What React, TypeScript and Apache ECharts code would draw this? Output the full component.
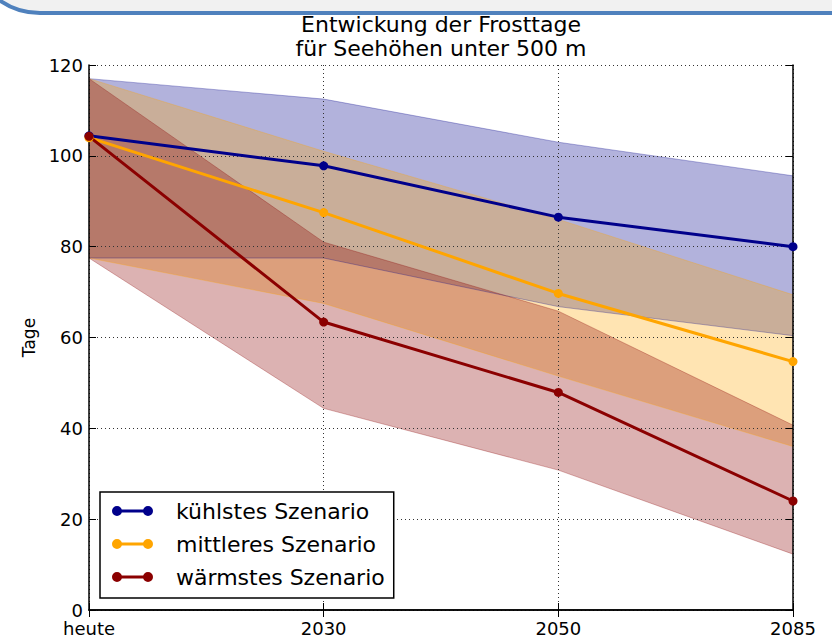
import React, { useEffect, useRef } from "react";
import * as echarts from "echarts";

const categories = ["heute", "2030", "2050", "2085"];
const yTicks = [0, 20, 40, 60, 80, 100, 120];

const seriesNames = ["kühlstes Szenario", "mittleres Szenario", "wärmstes Szenario"];

const coolMean = [104.4, 97.8, 86.5, 80.0];
const midMean = [104.0, 87.5, 69.7, 54.7];
const warmMean = [104.3, 63.4, 47.9, 24.0];

const coolLow = [77.5, 77.5, 66.8, 60.4];
const coolHigh = [117, 112.5, 103, 95.6];
const midLow = [77.5, 67.5, 51.5, 36.0];
const midHigh = [117, 101, 86, 69.4];
const warmLow = [77.5, 44.4, 30.8, 12.3];
const warmHigh = [117, 81, 65.8, 40.7];

const lineColors = ["#00008B", "#FFA500", "#8B0000"];
const bandColors = ["rgba(0,0,139,0.3)", "rgba(255,165,0,0.3)", "rgba(139,0,0,0.3)"];

const FONT = "DejaVu Sans";

const legendIcon =
  "path://M0,5 A5,5 0 1,1 10,5 A5,5 0 1,1 0,5 Z M31,5 A5,5 0 1,1 41,5 A5,5 0 1,1 31,5 Z M5,3.5 L36,3.5 L36,6.5 L5,6.5 Z";

function bandSeries(name: string, low: number[], high: number[], color: string, stack: string) {
  return [
    {
      type: "line",
      name: name + " (unten)",
      stack,
      data: low,
      symbol: "none",
      lineStyle: { color, width: 1 },
      z: 2,
      silent: true,
    },
    {
      type: "line",
      name: name + " (oben)",
      stack,
      data: high.map((h, i) => +(h - low[i]).toFixed(2)),
      symbol: "none",
      lineStyle: { color, width: 1 },
      areaStyle: { color, opacity: 1 },
      z: 2,
      silent: true,
    },
  ];
}

function meanSeries(name: string, data: number[], color: string) {
  return {
    type: "line",
    name,
    data,
    symbol: "circle",
    symbolSize: 9,
    showSymbol: true,
    lineStyle: { color, width: 3 },
    itemStyle: { color, borderWidth: 0 },
    z: 20,
  };
}

export default function App() {
  const ref = useRef<HTMLDivElement>(null);
  useEffect(() => {
    if (!ref.current) return;
    const chart = echarts.init(ref.current, null, { renderer: "svg" });
    const axisCommon = {
      axisLine: { show: true, lineStyle: { color: "#000", width: 1.5 } },
      axisTick: { show: true, inside: true, length: 7, lineStyle: { color: "#000", width: 1 } },
    };
    const gridLine = { show: true, lineStyle: { type: [1, 3], color: "#333", width: 1 } };
    chart.setOption({
      animation: false,
      backgroundColor: "#fff",
      title: {
        text: "Entwickung der Frosttage\nfür Seehöhen unter 500 m",
        left: 441,
        top: 12,
        textAlign: "center",
        padding: 0,
        textStyle: { fontFamily: FONT, fontSize: 22, fontWeight: "normal", color: "#000", lineHeight: 24 },
      },
      graphic: [
        {
          type: "rect",
          shape: { x: -30, y: -147, width: 1000, height: 160, r: 70 },
          style: { fill: "#f1f1f1", stroke: "#4f81bd", lineWidth: 4 },
          z: -10,
          silent: true,
        },
      ],
      grid: { left: 89, right: 39, top: 65, bottom: 27, containLabel: false, outerBoundsMode: "none" },
      legend: {
        data: seriesNames,
        orient: "vertical",
        left: 100,
        top: 492,
        padding: [8, 9, 10, 12],
        itemGap: 11,
        itemWidth: 41,
        itemHeight: 10,
        icon: legendIcon,
        backgroundColor: "#fff",
        borderColor: "#000",
        borderWidth: 1.5,
        borderRadius: 0,
        selectedMode: false,
        itemStyle: { borderWidth: 0 },
        textStyle: { fontFamily: FONT, fontSize: 22, color: "#000", lineHeight: 22, padding: [0, 0, 0, 18] },
        z: 30,
      },
      xAxis: [
        {
          type: "category",
          data: categories,
          boundaryGap: false,
          position: "bottom",
          ...axisCommon,
          axisLabel: { interval: 0, margin: 11, fontSize: 18, lineHeight: 14, color: "#000", fontFamily: FONT },
          splitLine: { ...gridLine, interval: 0 },
          z: 10,
        },
        {
          type: "category",
          data: categories,
          boundaryGap: false,
          position: "top",
          ...axisCommon,
          axisLabel: { show: false },
          splitLine: { show: false },
          z: 10,
        },
      ],
      yAxis: [
        {
          type: "value",
          min: yTicks[0],
          max: yTicks[yTicks.length - 1],
          interval: 20,
          position: "left",
          ...axisCommon,
          axisLabel: { margin: 6, fontSize: 18, lineHeight: 14, color: "#000", fontFamily: FONT },
          splitLine: gridLine,
          name: "Tage",
          nameLocation: "middle",
          nameGap: 50,
          nameTextStyle: { fontFamily: FONT, fontSize: 17, color: "#000" },
          z: 10,
        },
        {
          type: "value",
          min: yTicks[0],
          max: yTicks[yTicks.length - 1],
          interval: 20,
          position: "right",
          ...axisCommon,
          axisLabel: { show: false },
          splitLine: { show: false },
          z: 10,
        },
      ],
      series: [
        ...bandSeries(seriesNames[0], coolLow, coolHigh, bandColors[0], "bandCool"),
        ...bandSeries(seriesNames[1], midLow, midHigh, bandColors[1], "bandMid"),
        ...bandSeries(seriesNames[2], warmLow, warmHigh, bandColors[2], "bandWarm"),
        meanSeries(seriesNames[0], coolMean, lineColors[0]),
        meanSeries(seriesNames[1], midMean, lineColors[1]),
        meanSeries(seriesNames[2], warmMean, lineColors[2]),
      ],
    });
    return () => chart.dispose();
  }, []);
  return (
    <div
      ref={ref}
      style={{ position: "fixed", left: 0, top: 0, width: 832, height: 637, background: "#fff" }}
    />
  );
}
